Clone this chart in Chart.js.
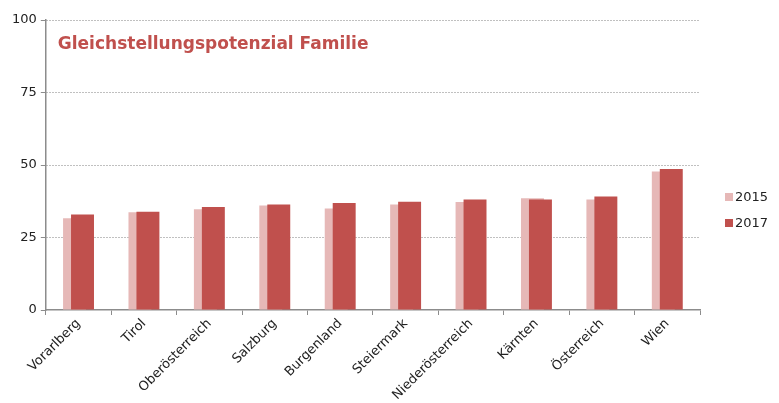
<!DOCTYPE html>
<html>
<head>
<meta charset="utf-8">
<script src="https://cdn.jsdelivr.net/npm/chart.js@4.4.1/dist/chart.umd.min.js"></script>
<style>
  html, body { margin: 0; padding: 0; background: #fff; }
  #wrap { width: 779px; height: 403px; position: relative; }
</style>
</head>
<body>
<div id="wrap"><canvas id="chart"></canvas></div>
<script>
const regionen = ['Vorarlberg', 'Tirol', 'Oberösterreich', 'Salzburg', 'Burgenland',
  'Steiermark', 'Niederösterreich', 'Kärnten', 'Österreich', 'Wien'];
const werte2015 = [31.6, 33.7, 34.7, 36.0, 35.0, 36.4, 37.2, 38.5, 38.1, 47.8];
const werte2017 = [32.9, 33.9, 35.5, 36.4, 36.9, 37.3, 38.1, 38.1, 39.1, 48.6];
const yTicks = [0, 25, 50, 75, 100];
const titel = 'Gleichstellungspotenzial Familie';

const fontName = '"DejaVu Sans", sans-serif';
const achsenGrau = '#8c8c8c';

// Titel im Diagrammbereich
const titelPlugin = {
  id: 'titelImPlot',
  afterDraw(chart) {
    const { ctx, chartArea } = chart;
    ctx.save();
    ctx.font = 'bold 17px ' + fontName;
    ctx.fillStyle = '#C0504D';
    ctx.textBaseline = 'middle';
    ctx.fillText(titel, chartArea.left + 12, chartArea.top + 25);
    ctx.restore();
  }
};

// 2017 soll vor 2015 liegen: Datensatz 1 erst zum Schluss zeichnen
const reihenfolgePlugin = {
  id: 'reihenfolge',
  beforeDatasetDraw(chart, args) {
    if (args.index === 1 && !chart.$spaet) return false;
  },
  afterDatasetsDraw(chart) {
    const meta = chart.getDatasetMeta(1);
    const { ctx, chartArea } = chart;
    ctx.save();
    ctx.beginPath();
    ctx.rect(chartArea.left, chartArea.top, chartArea.width, chartArea.height);
    ctx.clip();
    chart.$spaet = true;
    meta.controller.draw();
    chart.$spaet = false;
    ctx.restore();
  }
};

// Legende rechts neben dem Diagramm
const legendePlugin = {
  id: 'legendeRechts',
  afterDraw(chart) {
    const { ctx, chartArea } = chart;
    const mitte = (chartArea.top + chartArea.bottom) / 2;
    ctx.save();
    ctx.font = '13px ' + fontName;
    ctx.textBaseline = 'middle';
    chart.data.datasets.forEach((ds, i) => {
      const y = mitte + 32 + i * 26;
      const x = chartArea.right + 25;
      ctx.fillStyle = ds.backgroundColor;
      ctx.fillRect(x, y - 4, 8, 8);
      ctx.fillStyle = '#222';
      ctx.fillText(ds.label, x + 10, y + 1);
    });
    ctx.restore();
  }
};

new Chart(document.getElementById('chart'), {
  type: 'bar',
  data: {
    labels: regionen,
    datasets: [
      {
        label: '2015',
        data: werte2015,
        backgroundColor: '#E6B8B7',
        barPercentage: 2.875,
        categoryPercentage: 0.244
      },
      {
        label: '2017',
        data: werte2017,
        backgroundColor: '#C0504D',
        barPercentage: 2.875,
        categoryPercentage: 0.244
      }
    ]
  },
  options: {
    responsive: true,
    maintainAspectRatio: false,
    animation: false,
    layout: { padding: { left: 8, top: 20, right: 79, bottom: 0 } },
    plugins: {
      legend: { display: false },
      tooltip: { enabled: false }
    },
    scales: {
      x: {
        afterFit: s => { s.height = 93; },
        grid: {
          display: true,
          drawOnChartArea: false,
          drawTicks: true,
          tickLength: 5,
          tickColor: achsenGrau,
          offset: true
        },
        border: { display: true, color: achsenGrau, width: 1.5 },
        ticks: {
          color: '#222',
          font: { family: fontName, size: 13 },
          maxRotation: 45,
          minRotation: 45,
          autoSkip: false,
          padding: 1
        }
      },
      y: {
        min: 0,
        max: 100,
        afterBuildTicks: axis => { axis.ticks = yTicks.map(v => ({ value: v })); },
        grid: {
          color: ctx => ctx.tick && ctx.tick.value === 0 ? 'rgba(0,0,0,0)' : '#808080',
          tickColor: achsenGrau,
          tickBorderDash: [],
          tickLength: 5
        },
        border: { display: true, color: achsenGrau, width: 1.5, dash: [1, 2] },
        ticks: {
          color: '#222',
          font: { family: fontName, size: 13 },
          padding: 4
        }
      }
    }
  },
  plugins: [titelPlugin, reihenfolgePlugin, legendePlugin]
});
</script>
</body>
</html>
